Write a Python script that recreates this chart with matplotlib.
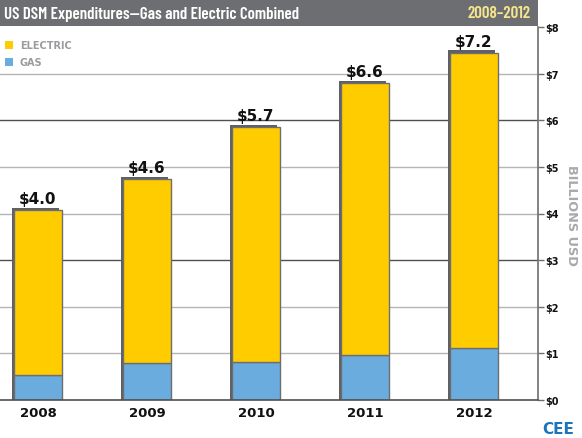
import numpy as np
import matplotlib
matplotlib.use("Agg")
import matplotlib.pyplot as plt
from matplotlib.patches import Rectangle
from matplotlib import font_manager

# data
years = ["2008", "2009", "2010", "2011", "2012"]
gas = [0.54, 0.80, 0.82, 0.96, 1.12]
electric = [3.53, 3.93, 5.03, 5.83, 6.33]
total_labels = ["$4.0", "$4.6", "$5.7", "$6.6", "$7.2"]
yticks = [0, 1, 2, 3, 4, 5, 6, 7, 8]
ytick_labels = ["$" + str(v) for v in yticks]

yellow = "#FFCC00"
blue = "#6AACDE"
edge = "#6D6E71"
shadow = "#5F6064"
header = "#6D6E71"

# a condensed face for the header if there is one
names = {f.name for f in font_manager.fontManager.ttflist}
narrow = "Barlow Condensed" if "Barlow Condensed" in names else "DejaVu Sans"

W, H = 582, 439
fig = plt.figure(figsize=(W / 100, H / 100), dpi=100)
ax = fig.add_axes([0, (H - 401) / H, 538 / W, (401 - 28) / H])

x = np.arange(len(years))
bw = 0.44
totals = np.array(gas) + np.array(electric)

# px -> data units for the shadow offset
px_x = 1 / 109.0
px_y = 8 / 373.0

# gridlines ($3 and $6 look darker in the original)
for v in yticks[1:-1]:
    c = "#505050" if v in (3, 6) else "#B5B5B5"
    ax.axhline(v, color=c, lw=1.0, zorder=0)

for i in range(len(years)):
    ax.add_patch(Rectangle((x[i] - bw / 2 - 2.5 * px_x, 0), bw, totals[i] + 2.5 * px_y,
                           facecolor=shadow, edgecolor="none", zorder=1))
ax.bar(x, gas, bw, color=blue, edgecolor=edge, lw=1.0, zorder=2)
ax.bar(x, electric, bw, bottom=gas, color=yellow, edgecolor=edge, lw=1.0, zorder=2)

for i in range(len(years)):
    ax.text(x[i], totals[i] + 4 * px_y, total_labels[i], ha="center", va="bottom",
            fontsize=11, fontweight="bold", color="#111111", zorder=3)

ax.set_xlim(-38 / 109.0, (538 - 38) / 109.0)
ax.set_ylim(0, 8)
ax.set_xticks(x)
ax.set_xticklabels(years, fontsize=9.5, fontweight="bold", color="#111111")
ax.tick_params(axis="x", length=0, pad=4)
ax.yaxis.tick_right()
ax.set_yticks(yticks)
ax.set_yticklabels(ytick_labels, fontsize=7, fontweight="bold", color="#111111")
ax.tick_params(axis="y", length=4, width=1, color=edge, pad=1)
for s in ["top", "left"]:
    ax.spines[s].set_visible(False)
ax.spines["bottom"].set_color("#505050")
ax.spines["right"].set_color(edge)
ax.spines["bottom"].set_linewidth(1.2)
ax.spines["right"].set_linewidth(1.2)

# header band
fig.patches.append(Rectangle((0, 1 - 27 / H), 538 / W, 27 / H, transform=fig.transFigure,
                             facecolor=header, edgecolor="none", zorder=0))
fig.text(4 / W, 1 - 14 / H, "US DSM Expenditures\u2014Gas and Electric Combined",
         fontsize=12.2, fontweight="semibold", family=narrow, color="white",
         ha="left", va="center")
fig.text(531 / W, 1 - 14 / H, "2008\u20132012", fontsize=12.2, fontweight="semibold",
         family=narrow, color="#F6E68E", ha="right", va="center")

# legend
for yy, col, lab in [(46, yellow, "ELECTRIC"), (63, blue, "GAS")]:
    fig.patches.append(Rectangle((5 / W, 1 - (yy + 4) / H), 8 / W, 8 / H,
                                 transform=fig.transFigure, facecolor=col,
                                 edgecolor="none"))
    fig.text(20 / W, 1 - yy / H, lab, fontsize=7, fontweight="bold",
             color="#9A9B9E", ha="left", va="center")

fig.text(571 / W, 1 - 215 / H, "BILLIONS USD", rotation=-90, fontsize=9.3,
         fontweight="bold", color="#A7A9AC", ha="center", va="center")
fig.text(558 / W, 1 - 430 / H, "CEE", fontsize=11, fontweight="bold",
         color="#1B75BB", ha="center", va="center")

fig.savefig("out.png", dpi=100)
